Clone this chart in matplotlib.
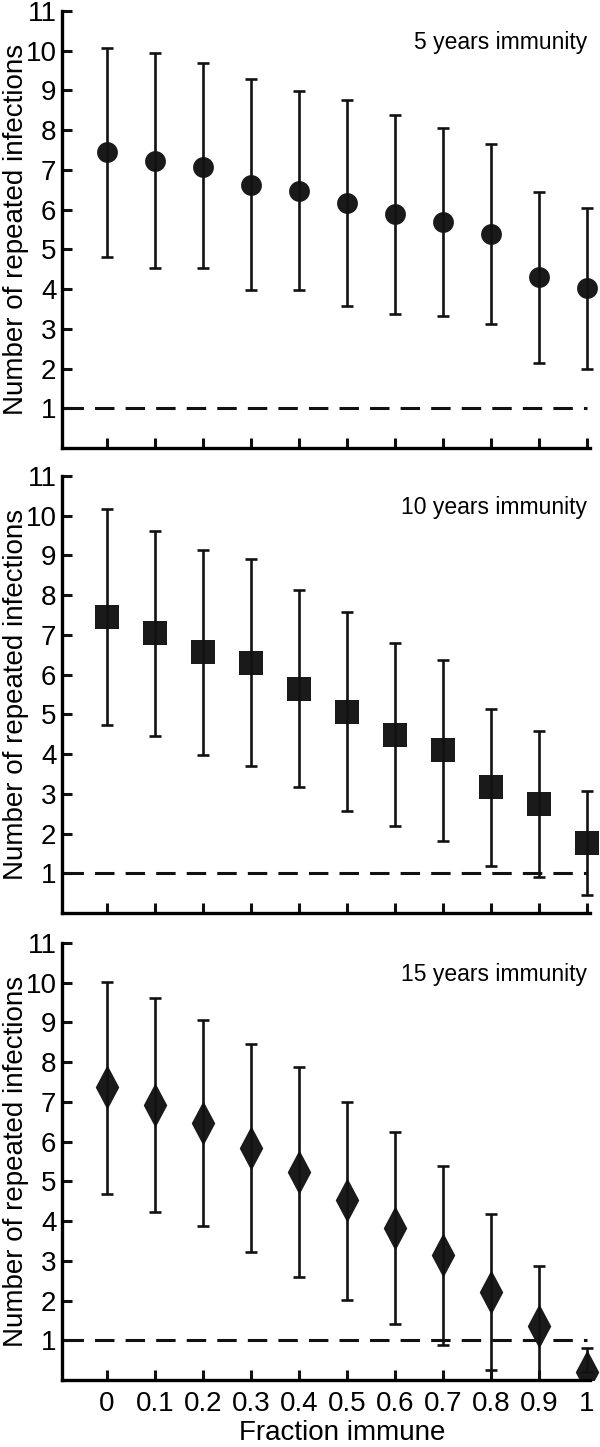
"""
Repeated infections against fraction immune.

Three stacked panels (5, 10, 15 years immunity): mean with error bars,
dashed reference line at one infection.
"""

import matplotlib
matplotlib.use("Agg")
import matplotlib.pyplot as plt
import numpy as np

plt.rcParams["font.family"] = ["Liberation Sans", "DejaVu Sans"]
plt.rcParams["lines.scale_dashes"] = False

# Shared x values and ticks
fraction_immune = [0, 0.1, 0.2, 0.3, 0.4, 0.5, 0.6, 0.7, 0.8, 0.9, 1.0]
x_tick_labels = ["0", "0.1", "0.2", "0.3", "0.4", "0.5", "0.6", "0.7", "0.8", "0.9", "1"]
y_ticks = [1, 2, 3, 4, 5, 6, 7, 8, 9, 10, 11]
threshold = 1

# 5 years immunity
mean_5y = [7.46, 7.22, 7.07, 6.62, 6.47, 6.16, 5.88, 5.69, 5.38, 4.30, 4.02]
upper_5y = [10.06, 9.95, 9.68, 9.30, 8.98, 8.76, 8.38, 8.06, 7.64, 6.45, 6.05]
lower_5y = [4.80, 4.53, 4.53, 3.98, 3.98, 3.57, 3.38, 3.33, 3.11, 2.14, 2.00]

# 10 years immunity
mean_10y = [7.45, 7.05, 6.56, 6.30, 5.64, 5.07, 4.48, 4.10, 3.16, 2.74, 1.75]
upper_10y = [10.17, 9.62, 9.13, 8.90, 8.13, 7.57, 6.79, 6.38, 5.13, 4.59, 3.07]
lower_10y = [4.73, 4.45, 3.97, 3.70, 3.17, 2.56, 2.20, 1.82, 1.18, 0.91, 0.46]

# 15 years immunity
mean_15y = [7.37, 6.92, 6.47, 5.85, 5.24, 4.53, 3.83, 3.14, 2.22, 1.36, 0.20]
upper_15y = [10.03, 9.61, 9.06, 8.47, 7.87, 6.99, 6.25, 5.38, 4.19, 2.87, 0.80]
lower_15y = [4.69, 4.23, 3.87, 3.22, 2.59, 2.02, 1.40, 0.87, 0.26, -0.10, 0.20]

panel_titles = ["5 years immunity", "10 years immunity", "15 years immunity"]

DIAMOND = [(0, -1), (0.53, 0), (0, 1), (-0.53, 0), (0, -1)]


def draw_panel(ax, mean, upper, lower, marker, marker_size, title, show_xlabels):
    """Error bar panel with dashed reference line and corner title."""
    mean = np.array(mean)
    yerr = [mean - np.array(lower), np.array(upper) - mean]

    # Error bars and markers
    ax.errorbar(fraction_immune, mean, yerr=yerr, fmt="none", ecolor="#111111",
                elinewidth=1.9, capsize=4.6, capthick=1.9, zorder=3)
    ax.plot(fraction_immune, mean, linestyle="none", marker=marker,
            markersize=marker_size, color="#1a1a1a", markeredgewidth=0, zorder=2)

    # Dashed reference line
    ax.hlines(threshold, fraction_immune[0] - 0.09, fraction_immune[-1],
              colors="#111111", linewidth=2.2, linestyles=(0, (14, 8)), zorder=1)

    ax.text(fraction_immune[-1], 10.2, title, ha="right", va="center", fontsize=16.5)

    ax.set_xlim(-0.094, 1.027)
    ax.set_ylim(0, 11)
    ax.set_xticks(fraction_immune)
    ax.set_yticks(y_ticks)
    ax.set_xticklabels(x_tick_labels)

    for side in ("top", "right"):
        ax.spines[side].set_visible(False)
    for side in ("left", "bottom"):
        ax.spines[side].set_linewidth(2.4)
    ax.spines["bottom"].set_bounds(-0.094, 1.006)

    ax.tick_params(axis="both", direction="in", length=7.5, width=2.2,
                   labelsize=20, color="#111111")
    ax.tick_params(axis="y", pad=4)
    ax.tick_params(axis="x", pad=8, labelbottom=show_xlabels)

    ax.set_ylabel("Number of repeated infections", fontsize=20)
    ax.yaxis.set_label_coords(-0.062, 0.5)


fig = plt.figure(figsize=(6, 14.47), dpi=100)

height = 437 / 1447
left = 62 / 600
width = 538 / 600
bottoms = [1 - 448 / 1447, 1 - 913 / 1447, 1 - 1380 / 1447]

ax_top = fig.add_axes([left, bottoms[0], width, height])
ax_mid = fig.add_axes([left, bottoms[1], width, height])
ax_bot = fig.add_axes([left, bottoms[2], width, height])

draw_panel(ax_top, mean_5y, upper_5y, lower_5y, "o", 15, panel_titles[0], False)
draw_panel(ax_mid, mean_10y, upper_10y, lower_10y, "s", 16.9, panel_titles[1], False)
draw_panel(ax_bot, mean_15y, upper_15y, lower_15y, DIAMOND, 32, panel_titles[2], True)

ax_bot.set_xlabel("Fraction immune", fontsize=20)
ax_bot.xaxis.set_label_coords(0.52, -0.092)

fig.savefig("out.png", dpi=100)
